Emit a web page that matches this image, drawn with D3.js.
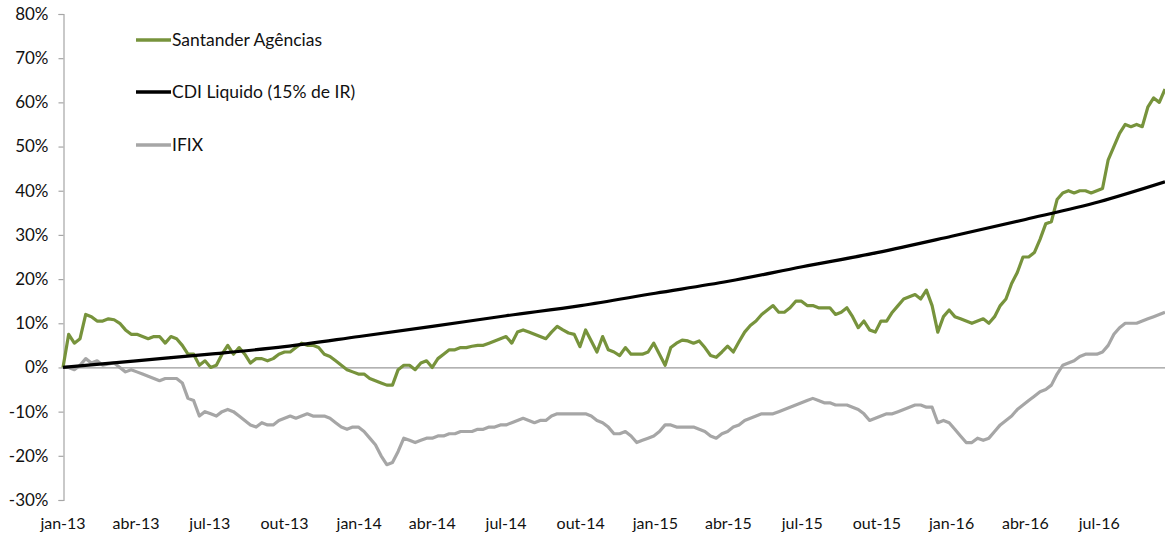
<!DOCTYPE html>
<html>
<head>
<meta charset="utf-8">
<script src="https://cdn.jsdelivr.net/npm/d3@7"></script>
<style>
  html, body { margin: 0; padding: 0; background: #fff; }
  svg { display: block; font-family: Lato, "Open Sans", sans-serif; }
</style>
</head>
<body>
<svg id="chart" width="1165" height="541"></svg>
<script>
// ---------- DATA ----------
const seriesNames = ["Santander Agências", "CDI Liquido (15% de IR)", "IFIX"];
const startDate = "2013-01-01";
const endDate = "2016-09-20";
const stepDays = 7; // weekly samples for the two market series

// Santander Agências cumulative return (%), weekly from startDate
const santanderValues = [
  0, 7.5, 5.5, 6.5, 12, 11.5, 10.5, 10.5, 11, 10.8,
  10, 8.5, 7.5, 7.5, 7, 6.5, 7, 7, 5.5, 7,
  6.5, 5, 3, 3, 0.5, 1.5, 0, 0.5, 3, 5,
  3, 4.5, 3, 1, 2, 2, 1.5, 2, 3, 3.5,
  3.5, 4.5, 5.5, 5, 5, 4.5, 3, 2.5, 1.5, 0.5,
  -0.5, -1, -1.5, -1.5, -2.5, -3, -3.5, -4, -4, -0.5,
  0.5, 0.5, -0.5, 1, 1.5, 0, 2, 3, 4, 4,
  4.5, 4.5, 4.8, 5, 5, 5.5, 6, 6.5, 7, 5.5,
  8, 8.5, 8, 7.5, 7, 6.5, 8, 9.3, 8.5, 7.8,
  7.5, 4.7, 8.5, 6, 3.5, 7, 4, 3.5, 2.7, 4.5,
  3, 3, 3, 3.5, 5.5, 3, 0.5, 4.5, 5.5, 6.2,
  6, 5.5, 6, 4.5, 2.7, 2.3, 3.5, 4.8, 3.5, 5.8,
  8, 9.5, 10.5, 12, 13, 14, 12.5, 12.5, 13.5, 15,
  15, 14, 14, 13.5, 13.5, 13.5, 12, 12.5, 13.5, 11.5,
  9, 10.5, 8.5, 8, 10.5, 10.5, 12.5, 14, 15.5, 16,
  16.5, 15.5, 17.5, 14, 8, 11.5, 13, 11.5, 11, 10.5,
  10, 10.5, 11, 10, 11.5, 14, 15.5, 19, 21.5, 25,
  25, 26, 29, 32.5, 33, 38, 39.5, 40, 39.5, 40,
  40, 39.5, 40, 40.5, 47, 50, 53, 55, 54.5, 55,
  54.5, 59, 61, 60, 63
];

// IFIX cumulative return (%), weekly from startDate
const ifixValues = [
  0, 0, -0.5, 0.5, 2, 1, 1.5, 0.5, 0.8, 1,
  0, -1, -0.5, -1, -1.5, -2, -2.5, -3, -2.5, -2.5,
  -2.5, -3.5, -7, -7.5, -11, -10, -10.5, -11, -10, -9.5,
  -10, -11, -12, -13, -13.5, -12.5, -13, -13, -12, -11.5,
  -11, -11.5, -11, -10.5, -11, -11, -11, -11.5, -12.5, -13.5,
  -14, -13.5, -13.5, -14.5, -16, -17.5, -20, -22, -21.5, -19,
  -16, -16.5, -17, -16.5, -16, -16, -15.5, -15.5, -15, -15,
  -14.5, -14.5, -14.5, -14, -14, -13.5, -13.5, -13, -13, -12.5,
  -12, -11.5, -12, -12.5, -12, -12, -11, -10.5, -10.5, -10.5,
  -10.5, -10.5, -10.5, -11, -12, -12.5, -13.5, -15, -15, -14.5,
  -15.5, -17, -16.5, -16, -15.5, -14.5, -13, -13, -13.5, -13.5,
  -13.5, -13.5, -14, -14.5, -15.5, -16, -15, -14.5, -13.5, -13,
  -12, -11.5, -11, -10.5, -10.5, -10.5, -10, -9.5, -9, -8.5,
  -8, -7.5, -7, -7.5, -8, -8, -8.5, -8.5, -8.5, -9,
  -9.5, -10.5, -12, -11.5, -11, -10.5, -10.5, -10, -9.5, -9,
  -8.5, -8.5, -9, -9, -12.5, -12, -12.5, -14, -15.5, -17,
  -17, -16, -16.5, -16, -14.5, -13, -12, -11, -9.5, -8.5,
  -7.5, -6.5, -5.5, -5, -4, -1.5, 0.5, 1, 1.5, 2.5,
  3, 3, 3, 3.5, 5, 7.5, 9, 10, 10, 10,
  10.5, 11, 11.5, 12, 12.5
];

// CDI Liquido (15% de IR) cumulative return (%), at quarter starts
const cdiDates = [
  "2013-01-01", "2013-04-01", "2013-07-01", "2013-10-01",
  "2014-01-01", "2014-04-01", "2014-07-01", "2014-10-01",
  "2015-01-01", "2015-04-01", "2015-07-01", "2015-10-01",
  "2016-01-01", "2016-04-01", "2016-07-01", "2016-09-20"
];
const cdiValues = [0, 1.5, 3, 4.7, 7, 9.3, 11.7, 14, 16.8, 19.5, 22.8, 26, 29.7, 33.5, 37.5, 42];

// Axis ticks
const xTickDates = [
  "2013-01-01", "2013-04-01", "2013-07-01", "2013-10-01",
  "2014-01-01", "2014-04-01", "2014-07-01", "2014-10-01",
  "2015-01-01", "2015-04-01", "2015-07-01", "2015-10-01",
  "2016-01-01", "2016-04-01", "2016-07-01"
];
const xTickLabels = [
  "jan-13", "abr-13", "jul-13", "out-13",
  "jan-14", "abr-14", "jul-14", "out-14",
  "jan-15", "abr-15", "jul-15", "out-15",
  "jan-16", "abr-16", "jul-16"
];
const yTicks = [-30, -20, -10, 0, 10, 20, 30, 40, 50, 60, 70, 80];

// ---------- DRAW ----------
const parse = d3.timeParse("%Y-%m-%d");
const colors = ["#77933C", "#000000", "#A6A6A6"];

const svg = d3.select("#chart");
const x = d3.scaleTime().domain([parse(startDate), parse(endDate)]).range([63, 1165]);
const y = d3.scaleLinear().domain([-30, 80]).range([500, 14]);

const weekly = vals => vals.map((v, i) => ({ date: d3.timeDay.offset(parse(startDate), i * stepDays), value: v }));
const santander = weekly(santanderValues);
const ifix = weekly(ifixValues);
const cdi = cdiDates.map((d, i) => ({ date: parse(d), value: cdiValues[i] }));

// Y axis
const yAxis = d3.axisLeft(y).tickValues(yTicks).tickFormat(d => d + "%").tickSize(5).tickPadding(10);
const gy = svg.append("g").attr("transform", "translate(63.5,0)").call(yAxis);
gy.select(".domain").attr("stroke", "#A6A6A6").attr("stroke-width", 1.2);
gy.selectAll(".tick line").attr("stroke", "#A6A6A6").attr("stroke-width", 1.2);
gy.selectAll(".tick text").attr("fill", "#111").style("font-size", "17px").style("font-family", "Lato, sans-serif");

// Zero line (category axis)
svg.append("line")
  .attr("x1", 63).attr("x2", 1165)
  .attr("y1", y(0) + 0.5).attr("y2", y(0) + 0.5)
  .attr("stroke", "#999").attr("stroke-width", 1.3);

// X tick labels at bottom
svg.append("g").selectAll("text")
  .data(xTickDates)
  .join("text")
  .attr("x", d => x(parse(d)))
  .attr("y", 529)
  .attr("text-anchor", "middle")
  .attr("fill", "#111")
  .style("font-size", "16px")
  .text((d, i) => xTickLabels[i]);

// Lines
const line = d3.line().x(d => x(d.date)).y(d => y(d.value));
const smooth = d3.line().x(d => x(d.date)).y(d => y(d.value)).curve(d3.curveMonotoneX);

svg.append("path").datum(ifix).attr("d", line)
  .attr("fill", "none").attr("stroke", colors[2]).attr("stroke-width", 3.2).attr("stroke-linejoin", "round");
svg.append("path").datum(santander).attr("d", line)
  .attr("fill", "none").attr("stroke", colors[0]).attr("stroke-width", 3.2).attr("stroke-linejoin", "round");
svg.append("path").datum(cdi).attr("d", smooth)
  .attr("fill", "none").attr("stroke", colors[1]).attr("stroke-width", 3.2);

// Legend
const legend = svg.append("g");
const legendY = [40, 92, 145];
seriesNames.forEach((name, i) => {
  legend.append("line")
    .attr("x1", 136).attr("x2", 171)
    .attr("y1", legendY[i]).attr("y2", legendY[i])
    .attr("stroke", colors[i]).attr("stroke-width", 3.5);
  legend.append("text")
    .attr("x", 172).attr("y", legendY[i])
    .attr("dy", "0.35em")
    .attr("fill", "#111")
    .style("font-size", "17.5px")
    .text(name);
});
</script>
</body>
</html>
